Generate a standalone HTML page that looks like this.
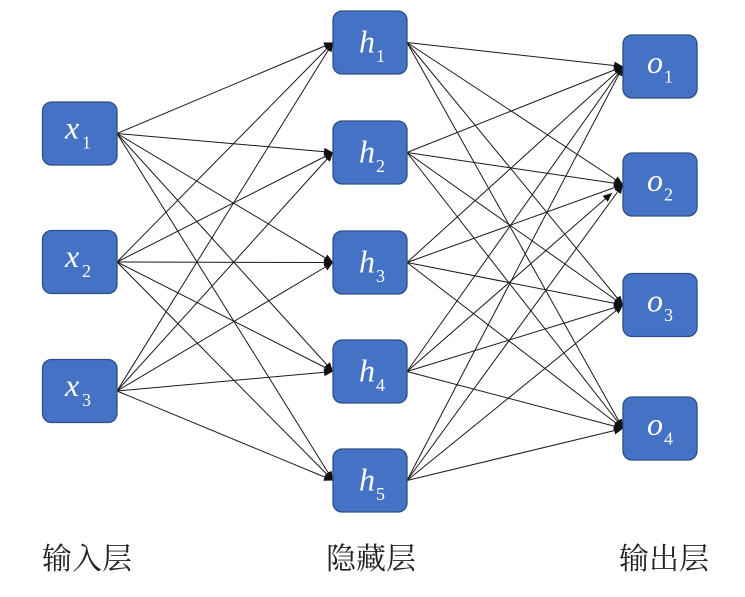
<!DOCTYPE html>
<html>
<head>
<meta charset="utf-8">
<style>
  html, body { margin:0; padding:0; background:#ffffff; }
  svg { display:block; }
  .box { fill:#4472C4; stroke:#2F4F86; stroke-width:1.3; }
  .ln { stroke:#1a1a1a; stroke-width:1; fill:none; }
  .v { font-family:"Liberation Serif", serif; font-style:italic; font-size:32px; fill:#ffffff; }
  .s { font-family:"Liberation Serif", serif; font-size:18px; fill:#ffffff; }
  .cap { font-family:"Liberation Serif", "Noto Serif CJK SC", serif; font-size:30px; fill:#222; }
</style>
</head>
<body>
<svg width="745" height="597" viewBox="0 0 745 597" xmlns="http://www.w3.org/2000/svg">
  <defs>
    <marker id="a" markerUnits="userSpaceOnUse" markerWidth="10" markerHeight="8" refX="9" refY="4" orient="auto">
      <path d="M0,0 L9,4 L0,8 z" fill="#111"/>
    </marker>
  </defs>

  <!-- x -> h -->
  <g class="ln" marker-end="url(#a)">
    <line x1="117" y1="133.5" x2="333" y2="42.5"/>
    <line x1="117" y1="133.5" x2="333" y2="152.5"/>
    <line x1="117" y1="133.5" x2="333" y2="262.5"/>
    <line x1="117" y1="133.5" x2="333" y2="371.5"/>
    <line x1="117" y1="133.5" x2="333" y2="480.5"/>

    <line x1="117" y1="262" x2="333" y2="42.5"/>
    <line x1="117" y1="262" x2="333" y2="152.5"/>
    <line x1="117" y1="262" x2="333" y2="262.5"/>
    <line x1="117" y1="262" x2="333" y2="371.5"/>
    <line x1="117" y1="262" x2="333" y2="480.5"/>

    <line x1="117" y1="391" x2="333" y2="42.5"/>
    <line x1="117" y1="391" x2="333" y2="152.5"/>
    <line x1="117" y1="391" x2="333" y2="262.5"/>
    <line x1="117" y1="391" x2="333" y2="371.5"/>
    <line x1="117" y1="391" x2="333" y2="480.5"/>
  </g>

  <!-- h -> o -->
  <g class="ln" marker-end="url(#a)">
    <line x1="407" y1="42.5" x2="623" y2="66.5"/>
    <line x1="407" y1="42.5" x2="623" y2="184.5"/>
    <line x1="407" y1="42.5" x2="623" y2="305"/>
    <line x1="407" y1="42.5" x2="623" y2="428.5"/>

    <line x1="407" y1="152.5" x2="623" y2="66.5"/>
    <line x1="407" y1="152.5" x2="623" y2="184.5"/>
    <line x1="407" y1="152.5" x2="623" y2="305"/>
    <line x1="407" y1="152.5" x2="623" y2="428.5"/>

    <line x1="407" y1="262.5" x2="623" y2="66.5"/>
    <line x1="407" y1="262.5" x2="623" y2="184.5"/>
    <line x1="407" y1="262.5" x2="623" y2="305"/>
    <line x1="407" y1="262.5" x2="623" y2="428.5"/>

    <line x1="407" y1="371.5" x2="623" y2="66.5"/>
    <line x1="407" y1="371.5" x2="612" y2="193"/>
    <line x1="407" y1="371.5" x2="623" y2="305"/>
    <line x1="407" y1="371.5" x2="623" y2="428.5"/>

    <line x1="407" y1="480.5" x2="623" y2="66.5"/>
    <line x1="407" y1="480.5" x2="623" y2="184.5"/>
    <line x1="407" y1="480.5" x2="623" y2="305"/>
    <line x1="407" y1="480.5" x2="623" y2="428.5"/>
  </g>

  <!-- input nodes -->
  <rect class="box" x="42.5" y="102" width="74.5" height="63" rx="9"/>
  <rect class="box" x="42.5" y="230.5" width="74.5" height="63" rx="9"/>
  <rect class="box" x="42.5" y="359.5" width="74.5" height="63" rx="9"/>
  <text class="v" x="65" y="138.5">x</text><text class="s" x="82" y="148.5">1</text>
  <text class="v" x="65" y="267">x</text><text class="s" x="82" y="277">2</text>
  <text class="v" x="65" y="396">x</text><text class="s" x="82" y="406">3</text>

  <!-- hidden nodes -->
  <rect class="box" x="333" y="11" width="74" height="63" rx="9"/>
  <rect class="box" x="333" y="121" width="74" height="63" rx="9"/>
  <rect class="box" x="333" y="231" width="74" height="63" rx="9"/>
  <rect class="box" x="333" y="340" width="74" height="63" rx="9"/>
  <rect class="box" x="333" y="449" width="74" height="63" rx="9"/>
  <text class="v" x="359" y="52.5">h</text><text class="s" x="376" y="62">1</text>
  <text class="v" x="359" y="162.5">h</text><text class="s" x="376" y="172">2</text>
  <text class="v" x="359" y="272.5">h</text><text class="s" x="376" y="282">3</text>
  <text class="v" x="359" y="381.5">h</text><text class="s" x="376" y="391">4</text>
  <text class="v" x="359" y="490.5">h</text><text class="s" x="376" y="500">5</text>

  <!-- output nodes -->
  <rect class="box" x="623" y="35" width="74" height="63" rx="9"/>
  <rect class="box" x="623" y="153" width="74" height="63" rx="9"/>
  <rect class="box" x="623" y="273.5" width="74" height="63" rx="9"/>
  <rect class="box" x="623" y="397" width="74" height="63" rx="9"/>
  <text class="v" x="647" y="73">o</text><text class="s" x="664" y="82.5">1</text>
  <text class="v" x="647" y="191">o</text><text class="s" x="664" y="200.5">2</text>
  <text class="v" x="647" y="311.5">o</text><text class="s" x="664" y="321">3</text>
  <text class="v" x="647" y="435">o</text><text class="s" x="664" y="444.5">4</text>

  <!-- captions -->
  <text class="cap" x="87" y="569" text-anchor="middle">输入层</text>
  <text class="cap" x="371" y="569" text-anchor="middle">隐藏层</text>
  <text class="cap" x="664" y="569" text-anchor="middle">输出层</text>
</svg>
</body>
</html>
